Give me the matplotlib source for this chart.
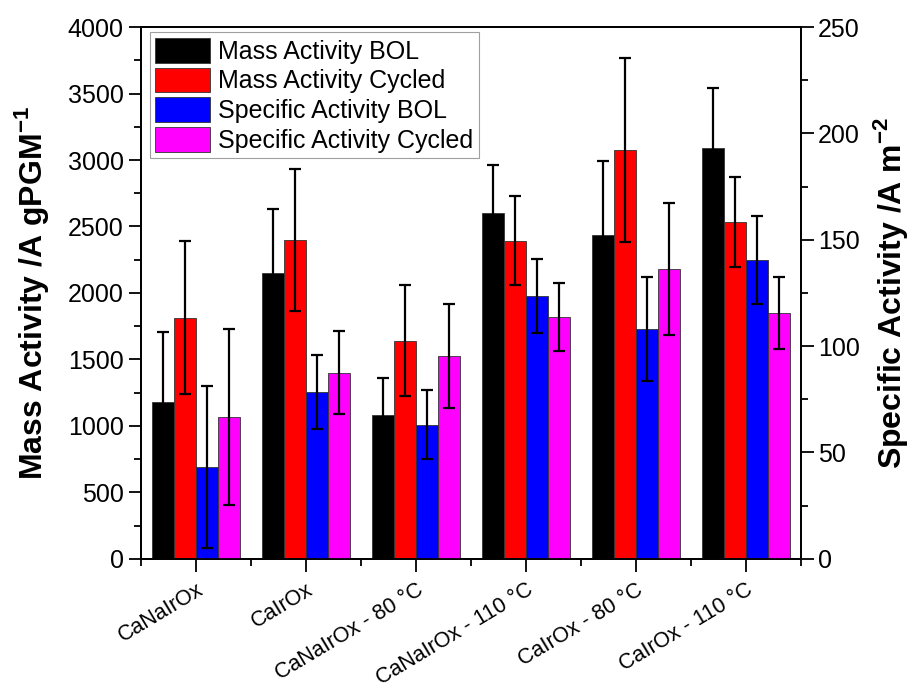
import numpy as np
import matplotlib
matplotlib.use("Agg")
import matplotlib.pyplot as plt
from matplotlib.ticker import MultipleLocator

plt.rcParams["font.family"] = ["Liberation Sans", "DejaVu Sans"]

# data
samples = ["CaNaIrOx", "CaIrOx", "CaNaIrOx - 80 °C", "CaNaIrOx - 110 °C",
           "CaIrOx - 80 °C", "CaIrOx - 110 °C"]
mass_bol = [1183, 2148, 1085, 2604, 2436, 3088]
mass_bol_err = [525, 484, 276, 358, 556, 453]
mass_cyc = [1814, 2398, 1641, 2393, 3075, 2536]
mass_cyc_err = [575, 532, 420, 337, 695, 338]
spec_bol = [43.2, 78.3, 63.1, 123.6, 107.9, 140.6]
spec_bol_err = [38.1, 17.4, 16.2, 17.3, 24.5, 20.7]
spec_cyc = [66.6, 87.5, 95.3, 113.6, 136.4, 115.5]
spec_cyc_err = [41.5, 19.5, 24.5, 16.0, 31.0, 17.0]

x = np.arange(1, len(samples) + 1)
w = 0.2
err_kw = dict(ecolor="black", elinewidth=1.6, capsize=4.5, capthick=1.6)
bar_kw = dict(width=w, edgecolor="#333333", linewidth=0.6)

fig = plt.figure(figsize=(9.1, 6.95), dpi=100)
ax = fig.add_axes([0.155, 0.196, 0.725, 0.765])
ax2 = ax.twinx()

b1 = ax.bar(x - 1.5 * w, mass_bol, yerr=mass_bol_err, color="black",
            error_kw=err_kw, label="Mass Activity BOL", **bar_kw)
b2 = ax.bar(x - 0.5 * w, mass_cyc, yerr=mass_cyc_err, color="#ff0000",
            error_kw=err_kw, label="Mass Activity Cycled", **bar_kw)
b3 = ax2.bar(x + 0.5 * w, spec_bol, yerr=spec_bol_err, color="#0000ff",
             error_kw=err_kw, label="Specific Activity BOL", **bar_kw)
b4 = ax2.bar(x + 1.5 * w, spec_cyc, yerr=spec_cyc_err, color="#ff00ff",
             error_kw=err_kw, label="Specific Activity Cycled", **bar_kw)

ax.set_xlim(0.5, len(samples) + 0.5)
ax.set_ylim(0, 4000)
ax2.set_ylim(0, 250)

ax.yaxis.set_major_locator(MultipleLocator(500))
ax.yaxis.set_minor_locator(MultipleLocator(250))
ax2.yaxis.set_major_locator(MultipleLocator(50))
ax2.yaxis.set_minor_locator(MultipleLocator(25))
ax.set_xticks(x)
ax.set_xticks(np.arange(0.5, len(samples) + 1, 1.0), minor=True)

for a in (ax, ax2):
    a.tick_params(which="major", direction="out", length=9, width=1.3,
                  labelsize=18)
    a.tick_params(which="minor", direction="out", length=5, width=1.3)
    for s in a.spines.values():
        s.set_linewidth(1.3)
ax.tick_params(axis="x", which="major", pad=6)
ax.set_xticklabels(samples, rotation=31, ha="right", va="top",
                   rotation_mode="anchor", fontsize=15.5)

ax.set_ylabel("Mass Activity /A gPGM$^{\\mathregular{-1}}$", fontsize=23,
              fontweight="bold", labelpad=12)
ax2.set_ylabel("Specific Activity /A m$^{\\mathregular{-2}}$", fontsize=23,
               fontweight="bold", labelpad=8)

leg = ax2.legend(handles=[b1, b2, b3, b4], loc="upper left",
                 bbox_to_anchor=(0.013, 0.99), fontsize=18, frameon=True,
                 fancybox=False, edgecolor="#888888", handlelength=2.2,
                 handleheight=1.15, handletextpad=0.33, labelspacing=0.15,
                 borderpad=0.22, borderaxespad=0.0)
leg.get_frame().set_linewidth(0.8)

fig.savefig("out.png", dpi=100)
